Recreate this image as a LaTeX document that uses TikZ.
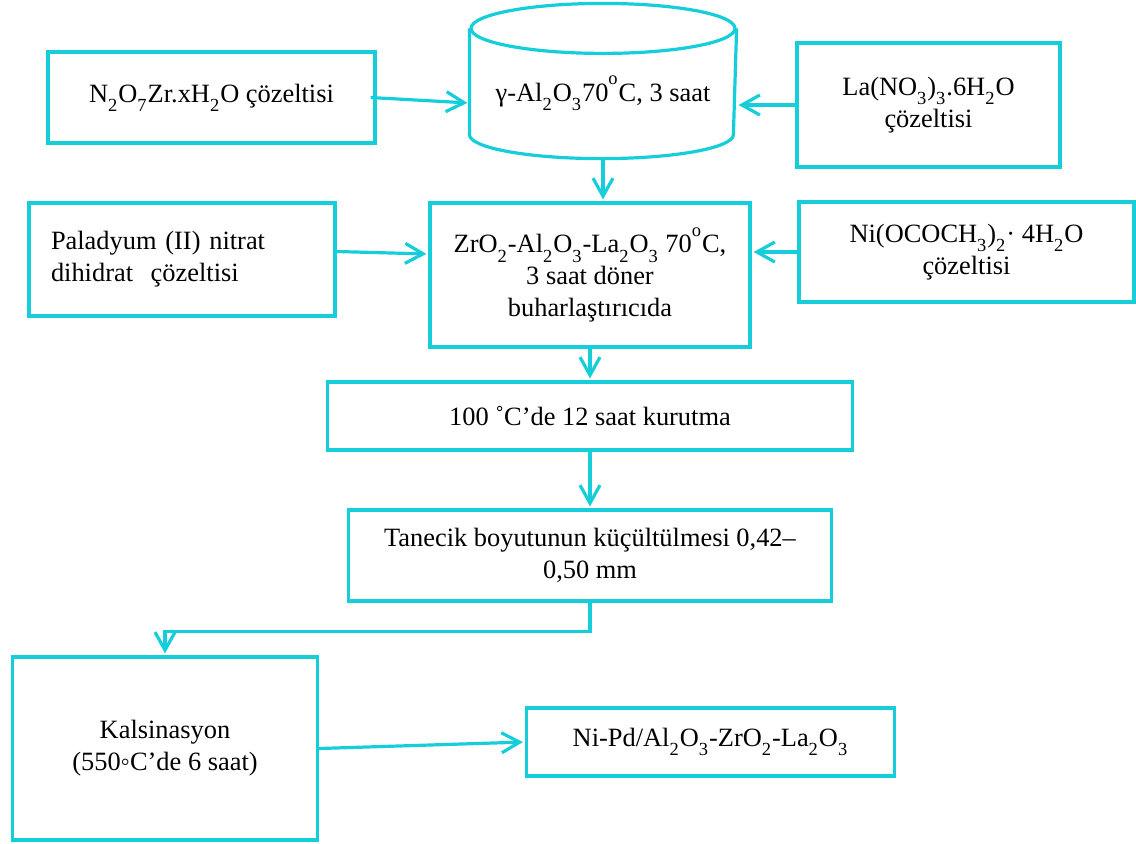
\documentclass[tikz,border=0pt]{standalone}
\usepackage{fontspec}
\setmainfont{Liberation Serif}
\usepackage{tikz}
\usetikzlibrary{positioning,arrows.meta}
\definecolor{flowcyan}{RGB}{21,206,218}
\newcommand{\sbs}[1]{\raisebox{-0.2em}{\textsubscript{#1}}}
\newcommand{\sps}[1]{\raisebox{0.3em}{\textsuperscript{#1}}}

\begin{document}
\begin{tikzpicture}[->,>={Straight Barb[length=9pt,width=10pt]},shorten >=1pt,
   line width=1.6pt,color=flowcyan,on grid,
   every node/.style={font=\fontsize{13.2}{16}\selectfont,text=black},
   box/.style={draw=flowcyan,rectangle,inner sep=2pt,align=center}]
 \useasboundingbox (0,0) rectangle (568pt,-421.5pt);
 \node[box,minimum width=160pt,minimum height=72pt] (B) at (295pt,-137.5pt)
   {ZrO\sbs{2}-Al\sbs{2}O\sbs{3}-La\sbs{2}O\sbs{3} 70\sps{o}C,\\ 3 saat döner\\ buharlaştırıcıda};
 \node[minimum width=132pt,minimum height=63.5pt] (cyl) [above right=90.75pt and 6.5pt of B]
   {γ-Al\sbs{2}O\sbs{3}70\sps{o}C, 3 saat};
 \node[box,minimum width=163.5pt,minimum height=45.5pt] (A) [below left=2pt and 195.75pt of cyl]
   {N\sbs{2}O\sbs{7}Zr.xH\sbs{2}O çözeltisi};
 \node[box,minimum width=131.5pt,minimum height=62pt] (La) [below right=5.75pt and 162.75pt of cyl]
   {La(NO\sbs{3})\sbs{3}.6H\sbs{2}O\\ çözeltisi};
 \node[box,minimum width=153pt,minimum height=56.5pt,text width=131pt,inner xsep=11pt,align=left] (P)
   [above left=7.75pt and 204pt of B] {Paladyum (II) nitrat\\ dihidrat \ çözeltisi};
 \node[box,minimum width=167.5pt,minimum height=50pt] (Ni) [above right=11.5pt and 188.25pt of B]
   {Ni(OCOCH\sbs{3})\sbs{2}· 4H\sbs{2}O\\ çözeltisi};
 \node[box,minimum width=262.5pt,minimum height=34pt] (D) [below=70.5pt of B]
   {100 ˚C’de 12 saat kurutma};
 \node[box,minimum width=241.5pt,minimum height=45.5pt] (T) [below=69.75pt of D]
   {Tanecik boyutunun küçültülmesi 0,42–\\ 0,50 mm};
 \node[box,minimum width=152.5pt,minimum height=91.5pt] (K) [below left=96.5pt and 212.5pt of T]
   {Kalsinasyon\\ (550◦C’de 6 saat)};
 \node[box,minimum width=184pt,minimum height=34pt] (F) [above right=3.25pt and 272.75pt of K]
   {Ni-Pd/Al\sbs{2}O\sbs{3}-ZrO\sbs{2}-La\sbs{2}O\sbs{3}};
 % cylinder outline
 \draw[-,shorten >=0pt] (cyl.north) ellipse [x radius=66pt,y radius=12.5pt];
 \draw[-,shorten >=0pt] (cyl.north west) -- ([yshift=12pt]cyl.south west)
   arc[start angle=180,end angle=360,x radius=66pt,y radius=12pt] -- (cyl.north east);
 % connectors
 \draw ([xshift=-3pt]A.east) -- ([yshift=-4.75pt]cyl.west);
 \draw (La.west) -- ([yshift=-5.75pt]cyl.east);
 \draw (cyl.south) -- (cyl.south |- B.north);
 \draw ([yshift=4pt]P.east) -- ([yshift=10.5pt]B.west);
 \draw (Ni.west) -- (Ni.west -| B.east);
 \draw (B) edge (D);
 \draw (D) edge (T);
 \draw (T.south) -- ++(0,-14.5pt) -| (K.north);
 \draw (K.east) -- (F.west);
\end{tikzpicture}
\end{document}
